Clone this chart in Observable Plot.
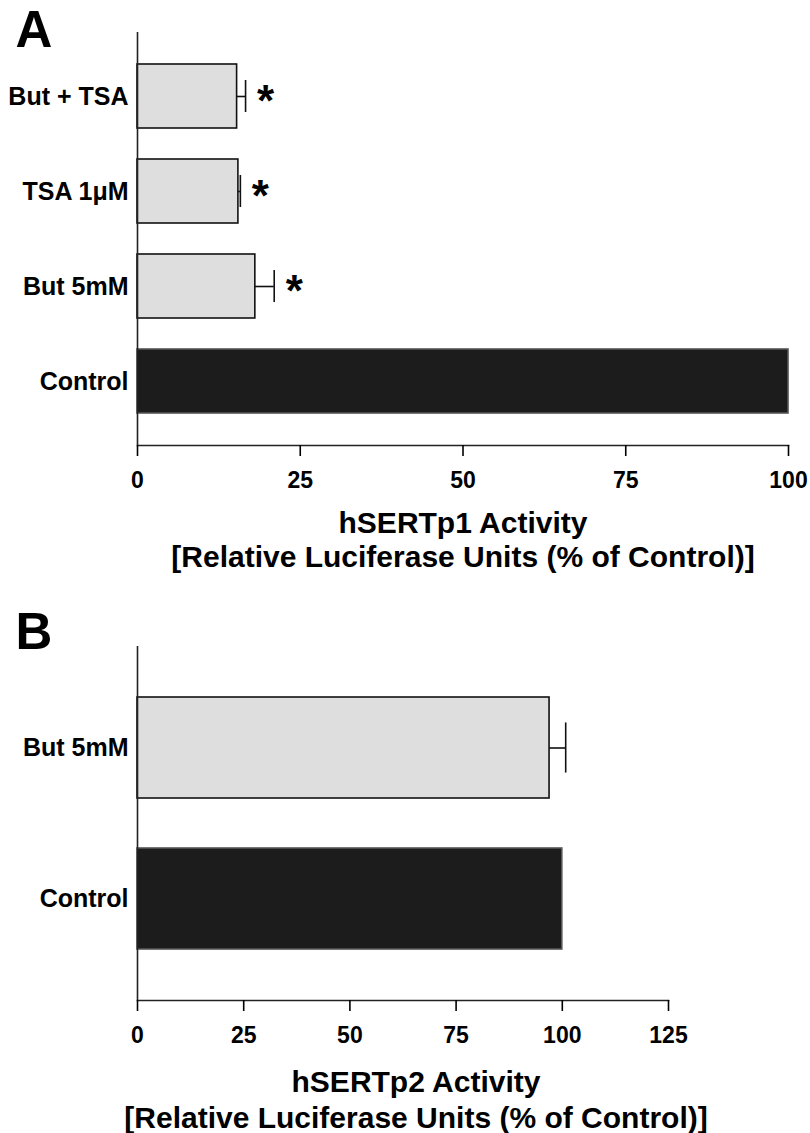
<!DOCTYPE html>
<html>
<head>
<meta charset="utf-8">
<script src="https://cdn.jsdelivr.net/npm/d3@7"></script>
<script src="https://cdn.jsdelivr.net/npm/@observablehq/plot@0.6"></script>
<style>
  html, body { margin: 0; padding: 0; background: #fff; }
  #chart { width: 810px; }
  #chart svg { display: block; }
</style>
</head>
<body>
<div id="chart"></div>
<script>
// ---- Panel A data ----
const catsA = ["But + TSA", "TSA 1\u03bcM", "But 5mM", "Control"];
const valuesA = [15.3, 15.5, 18.1, 100];
const errorsA = [1.3, 0.3, 2.9, 0];
const signifA = ["*", "*", "*", ""];
const ticksA = [0, 25, 50, 75, 100];
const titleA = ["hSERTp1 Activity", "[Relative Luciferase Units (% of Control)]"];

// ---- Panel B data ----
const catsB = ["But 5mM", "Control"];
const valuesB = [97.0, 100];
const errorsB = [3.8, 0];
const signifB = ["", ""];
const ticksB = [0, 25, 50, 75, 100, 125];
const titleB = ["hSERTp2 Activity", "[Relative Luciferase Units (% of Control)]"];

const FONT = "'Liberation Sans', Arial, Helvetica, sans-serif";

function panel(o) {
  const rows = o.cats.map((c, i) => ({cat: c, value: o.values[i], err: o.errors[i], sig: o.signif[i]}));
  const pad = 0.33;
  const range = o.height - o.mt - o.mb;
  const step = range / (o.cats.length - pad + 2 * pad);
  const bw = step * (1 - pad);
  const inset = bw / 4;
  return Plot.plot({
    width: 810,
    height: o.height,
    marginLeft: 137,
    marginRight: o.mr,
    marginTop: o.mt,
    marginBottom: o.mb,
    style: {fontFamily: FONT, fontWeight: "bold", color: "#000", background: "#fff", overflow: "visible"},
    x: {domain: [0, o.xmax]},
    y: {domain: o.cats, padding: pad},
    marks: [
      Plot.barX(rows.filter(d => d.cat !== "Control"), {x: "value", y: "cat", fill: "#dedede", stroke: "#111", strokeWidth: 1.6}),
      Plot.barX(rows.filter(d => d.cat === "Control"), {x: "value", y: "cat", fill: "#1c1c1c", stroke: "#555", strokeWidth: 1.6}),
      Plot.ruleY(rows.filter(d => d.err > 0), {x1: "value", x2: d => d.value + d.err, y: "cat", stroke: "#111", strokeWidth: 1.6}),
      Plot.tickX(rows.filter(d => d.err > 0), {x: d => d.value + d.err, y: "cat", insetTop: inset, insetBottom: inset, stroke: "#111", strokeWidth: 1.6}),
      Plot.text(rows.filter(d => d.sig), {x: d => d.value + d.err, y: "cat", text: "sig", dx: 20, dy: 5, fontSize: 44, fontWeight: "bold", fill: "#000"}),
      Plot.ruleX([0], {stroke: "#222", strokeWidth: 1.6}),
      Plot.frame({anchor: "bottom", stroke: "#222", strokeWidth: 1.6}),
      Plot.axisX({ticks: o.ticks, tickSize: 11, tickPadding: 15, fontSize: 23, fontWeight: "bold", label: null, tickFormat: d => String(d), strokeWidth: 1.6, fill: "#000"}),
      Plot.axisY({tickSize: 0, tickPadding: 9, fontSize: 25, fontWeight: "bold", label: null, fill: "#000"}),
      Plot.text([o.title.join("\n")], {text: d => d, frameAnchor: "bottom", textAnchor: "middle", lineAnchor: "top", lineHeight: o.lineHeight, dx: o.titleDx, dy: o.titleDy, fontSize: 30, fontWeight: "bold", fill: "#000"}),
      Plot.text([o.letter], {text: d => d, frameAnchor: "top-left", textAnchor: "start", lineAnchor: "top", dx: -122, dy: o.letterDy, fontSize: 51, fontWeight: "bold", fill: "#000"})
    ]
  });
}

const chart = document.getElementById("chart");
chart.appendChild(panel({
  cats: catsA, values: valuesA, errors: errorsA, signif: signifA, ticks: ticksA, xmax: 100,
  title: titleA, letter: "A", height: 585, mt: 32, mb: 140, mr: 22,
  titleDx: 0, titleDy: 63, lineHeight: 1.15, letterDy: -22
}));
chart.appendChild(panel({
  cats: catsB, values: valuesB, errors: errorsB, signif: signifB, ticks: ticksB, xmax: 125,
  title: titleB, letter: "B", height: 548, mt: 61, mb: 133, mr: 142,
  titleDx: 13, titleDy: 66, lineHeight: 1.2, letterDy: -34
}));
</script>
</body>
</html>
